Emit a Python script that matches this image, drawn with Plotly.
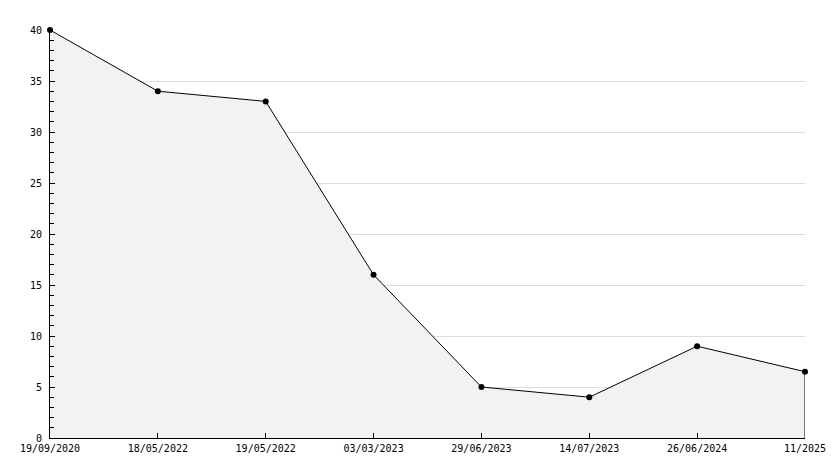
import plotly.graph_objects as go

dates = ["19/09/2020", "18/05/2022", "19/05/2022", "03/03/2023",
         "29/06/2023", "14/07/2023", "26/06/2024", "11/2025"]
values = [40, 34, 33, 16, 5, 4, 9, 6.5]
y_ticks = [0, 5, 10, 15, 20, 25, 30, 35, 40]

font = dict(family="DejaVu Sans Mono", size=10, color="black")

fig = go.Figure()
fig.add_trace(go.Scatter(
    x=dates, y=values, mode="lines+markers", fill="tozeroy",
    fillcolor="#f2f2f2", line=dict(color="black", width=1),
    marker=dict(symbol="circle", size=6, color="black"),
    cliponaxis=False, showlegend=False, hoverinfo="x+y",
))
# closing edge of the filled area at the last point
fig.add_trace(go.Scatter(
    x=[dates[-1], dates[-1]], y=[0, values[-1]], mode="lines",
    line=dict(color="black", width=1), showlegend=False, hoverinfo="skip",
))

# page body has an 8px margin, so the figure is sized to compensate
fig.update_layout(
    width=826, height=460,
    margin=dict(l=42, r=29, t=22, b=30),
    paper_bgcolor="white", plot_bgcolor="white",
    font=font,
    xaxis=dict(
        type="category", range=[0, len(dates) - 1], automargin=False,
        showline=True, linecolor="black", linewidth=1,
        ticks="inside", ticklen=5, tickcolor="black",
        showgrid=False, zeroline=False, tickfont=font, ticklabelstandoff=1,
    ),
    yaxis=dict(
        range=[0, 40], tickvals=y_ticks, automargin=False,
        showline=True, linecolor="black", linewidth=1,
        ticks="inside", ticklen=5, tickcolor="black",
        showgrid=True, gridcolor="#dddddd", gridwidth=1,
        zeroline=False, tickfont=font, ticklabelstandoff=5,
        minor=dict(dtick=1, ticks="inside", ticklen=4, tickcolor="black", showgrid=False),
    ),
)

fig.write_html("out.html")
